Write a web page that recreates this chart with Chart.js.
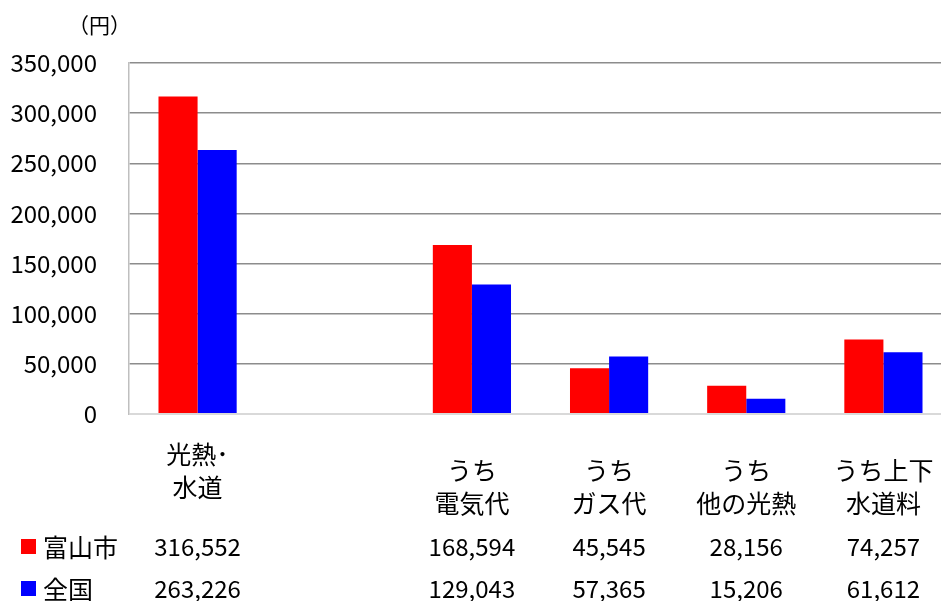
<!DOCTYPE html>
<html>
<head>
<meta charset="utf-8">
<script src="https://cdn.jsdelivr.net/npm/chart.js@4/dist/chart.umd.min.js"></script>
<style>
  html, body { margin: 0; padding: 0; background: #fff; }
  #wrap { position: relative; width: 941px; height: 601px; }
  #unit { position: absolute; left: 68px; top: 9px; font: 21px "Noto Sans CJK JP", sans-serif; color: #000; }
</style>
</head>
<body>
<div id="wrap">
  <canvas id="chart" width="941" height="601"></canvas>
  <div id="unit">（円）</div>
</div>
<script>
// categories (multi-line labels shown in the data table under the plot)
const categories = [
  ['光熱･', '水道', ''],
  [''],
  ['うち', '電気代'],
  ['うち', 'ガス代'],
  ['うち', '他の光熱'],
  ['うち上下', '水道料']
];
const seriesNames = ['富山市', '全国'];
const toyama = [316552, null, 168594, 45545, 28156, 74257];
const national = [263226, null, 129043, 57365, 15206, 61612];
const yTicks = [0, 50000, 100000, 150000, 200000, 250000, 300000, 350000];

const RED = '#ff0000';
const BLUE = '#0000ff';
const JP = '"Noto Sans CJK JP", "Noto Sans", sans-serif';

const fmt = (v) => v == null ? '' : v.toLocaleString('en-US');

// Stretch the category axis a little past the right edge, like the original crop
const stretchX = {
  id: 'stretchX',
  afterLayout(chart) {
    const x = chart.scales.x;
    x.right = 952;
    x.width = x.right - x.left;
    x.configure();
  }
};

// data table below the plot: category names, legend keys, values
const dataTable = {
  id: 'dataTable',
  afterDraw(chart) {
    const ctx = chart.ctx;
    const x = chart.scales.x;
    ctx.save();
    ctx.fillStyle = '#000';
    ctx.textAlign = 'center';
    ctx.textBaseline = 'middle';

    // category labels, vertically centred in their cell
    ctx.font = '25px ' + JP;
    const lineH = 33;
    const midY = 487;
    categories.forEach((lines, i) => {
      const cx = x.getPixelForValue(i);
      const top = midY - (lines.length - 1) * lineH / 2;
      lines.forEach((t, k) => ctx.fillText(t, cx, top + k * lineH));
    });

    // rows
    const rows = [
      { name: seriesNames[0], color: RED, values: toyama, y: 547 },
      { name: seriesNames[1], color: BLUE, values: national, y: 589 }
    ];
    rows.forEach(r => {
      ctx.fillStyle = r.color;
      ctx.fillRect(21, r.y - 8, 15, 15);
      ctx.fillStyle = '#000';
      ctx.textAlign = 'left';
      ctx.font = '25px ' + JP;
      ctx.fillText(r.name, 43, r.y);
      ctx.textAlign = 'center';
      ctx.font = '24px ' + JP;
      r.values.forEach((v, i) => ctx.fillText(fmt(v), x.getPixelForValue(i), r.y));
    });
    ctx.restore();
  }
};

new Chart(document.getElementById('chart'), {
  type: 'bar',
  data: {
    labels: categories,
    datasets: [
      { label: seriesNames[0], data: toyama, backgroundColor: RED },
      { label: seriesNames[1], data: national, backgroundColor: BLUE }
    ]
  },
  options: {
    responsive: false,
    devicePixelRatio: 1,
    animation: false,
    layout: { padding: { top: 63, right: 0, bottom: 0, left: 0 } },
    datasets: { bar: { categoryPercentage: 0.57, barPercentage: 1.0 } },
    plugins: {
      legend: { display: false },
      tooltip: { enabled: false }
    },
    scales: {
      x: {
        ticks: { display: false },
        grid: { display: false, drawTicks: false },
        border: { display: false },
        afterFit: (s) => { s.height = 187; }
      },
      y: {
        min: 0,
        max: 350000,
        afterBuildTicks: (s) => { s.ticks = yTicks.map(v => ({ value: v })); },
        afterFit: (s) => { s.width = 129; },
        ticks: {
          padding: 32,
          color: '#000',
          font: { family: JP, size: 24 },
          callback: (v) => fmt(v)
        },
        grid: {
          drawTicks: false,
          color: (c) => c.tick && c.tick.value === 0 ? '#d9d9d9' : '#8c8c8c',
          lineWidth: (c) => c.tick && c.tick.value === 0 ? 2 : 1.5
        },
        border: { display: true, color: '#bfbfbf', width: 1.5 }
      }
    }
  },
  plugins: [stretchX, dataTable]
});
</script>
</body>
</html>
